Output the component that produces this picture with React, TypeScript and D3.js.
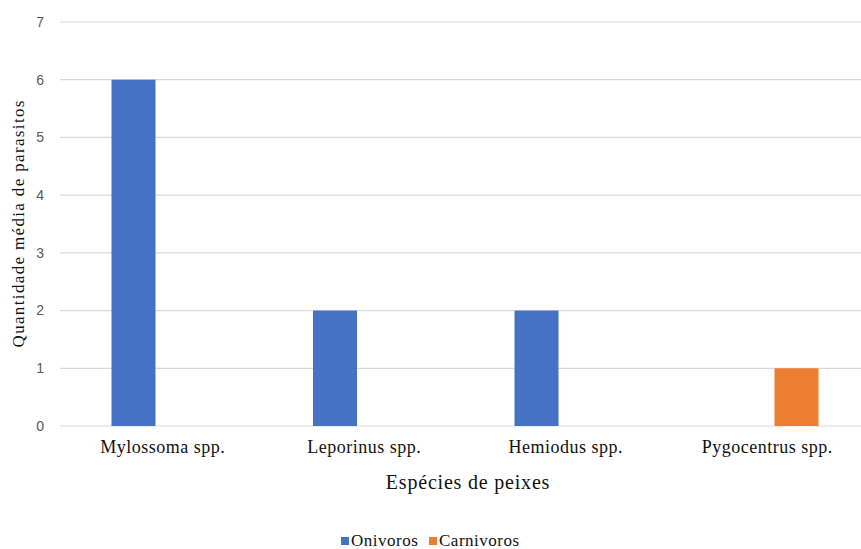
import React from "react";
import * as d3 from "d3";

const categories = ["Mylossoma spp.", "Leporinus spp.", "Hemiodus spp.", "Pygocentrus spp."];
const seriesNames = ["Onivoros", "Carnivoros"];
const onivoros = [6, 2, 2, 0];
const carnivoros = [0, 0, 0, 1];
const yTicks = [0, 1, 2, 3, 4, 5, 6, 7];
const colors = ["#4472C4", "#ED7D31"];

const W = 861;
const H = 549;

export default function App() {
  const x = d3.scaleBand<string>().domain(categories).range([62, 868]).paddingInner(0).paddingOuter(0);
  const bw = x.bandwidth();
  const xs = d3
    .scaleBand<string>()
    .domain(seriesNames)
    .range([bw * 0.2457, bw * 0.7543])
    .paddingInner(0.248)
    .paddingOuter(0);
  const y = d3.scaleLinear().domain([0, 7]).range([426, 22]);
  const data = [onivoros, carnivoros];
  const serif = { fontFamily: "Liberation Serif, DejaVu Serif, Times New Roman, serif" };

  return (
    <svg width={W} height={H} style={{ position: "absolute", left: 0, top: 0, background: "#fff" }}>
      <rect x={0} y={0} width={W} height={H} fill="#fff" />
      {yTicks.map((t) => (
        <g key={t}>
          <line x1={60} x2={W} y1={y(t)} y2={y(t)} stroke="#d9d9d9" strokeWidth={1.2} />
          <text
            x={44}
            y={y(t)}
            dy="0.35em"
            textAnchor="end"
            style={{ fontFamily: "Liberation Sans, Arial, sans-serif" }}
            fontSize={14}
            fill="#595959"
          >
            {t}
          </text>
        </g>
      ))}
      {data.map((vals, si) =>
        vals.map((v, ci) =>
          v > 0 ? (
            <rect
              key={`${si}-${ci}`}
              x={(x(categories[ci]) as number) + (xs(seriesNames[si]) as number)}
              y={y(v)}
              width={xs.bandwidth()}
              height={y(0) - y(v)}
              fill={colors[si]}
            />
          ) : null
        )
      )}
      {categories.map((c) => (
        <text
          key={c}
          x={(x(c) as number) + bw / 2}
          y={453}
          textAnchor="middle"
          style={serif}
          fontSize={18}
          letterSpacing={0.5}
          fill="#111"
        >
          {c}
        </text>
      ))}
      <text x={468} y={489} textAnchor="middle" style={serif} fontSize={20} letterSpacing={0.8} fill="#111">
        Espécies de peixes
      </text>
      <text
        transform={`translate(24,224) rotate(-90)`}
        textAnchor="middle"
        style={serif}
        fontSize={17}
        textLength={247}
        lengthAdjust="spacing"
        fill="#111"
      >
        Quantidade média de parasitos
      </text>
      <g>
        <rect x={341} y={537} width={8} height={8} fill={colors[0]} />
        <text x={351} y={546} style={serif} fontSize={17} letterSpacing={0.5} fill="#111">
          {seriesNames[0]}
        </text>
        <rect x={429} y={537} width={8} height={8} fill={colors[1]} />
        <text x={439} y={546} style={serif} fontSize={17} letterSpacing={0.5} fill="#111">
          {seriesNames[1]}
        </text>
      </g>
    </svg>
  );
}
